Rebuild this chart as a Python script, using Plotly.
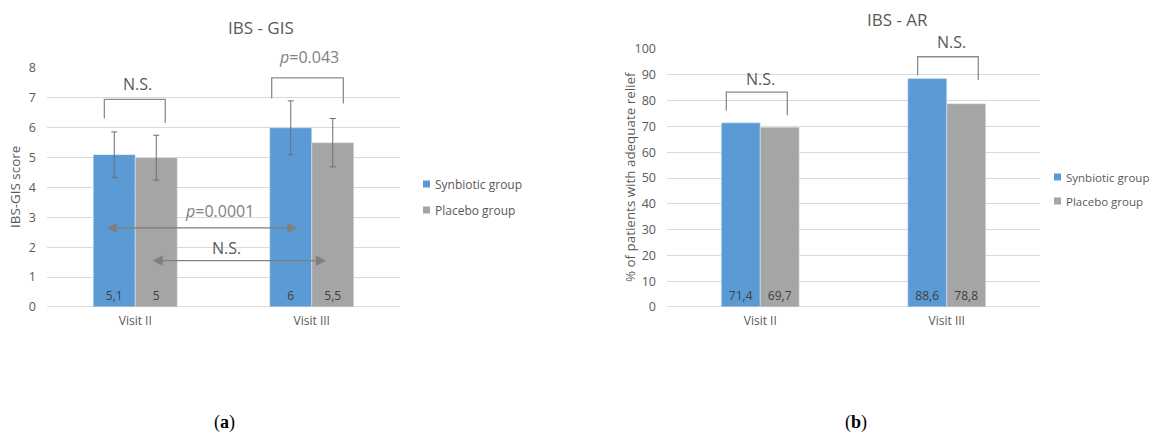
import plotly.graph_objects as go

# ---- data ----
visits = ["Visit II", "Visit III"]
gis_synbiotic = [5.1, 6.0]
gis_placebo = [5.0, 5.5]
gis_synbiotic_sd = [0.76, 0.9]
gis_placebo_sd = [0.75, 0.81]
ar_synbiotic = [71.4, 88.6]
ar_placebo = [69.7, 78.8]
gis_ticks = [0, 1, 2, 3, 4, 5, 6, 7, 8]
ar_ticks = [0, 10, 20, 30, 40, 50, 60, 70, 80, 90, 100]
groups = ["Synbiotic group", "Placebo group"]

BLUE = "#5B9BD5"
GRAY = "#A5A5A5"
TXT = "#595959"
GRID = "#D9D9D9"
LINE = "#8C8C8C"
FONT = "Open Sans"

W, H = 1151, 432


def px_x(p):
    return p / W


def px_y(p):
    return 1 - p / H


def fmt(v):
    return f"{v:g}".replace(".", ",")


xpos = list(range(len(visits)))

# panel geometry (paper fractions)
XD1 = [px_x(47), px_x(400)]
YD1 = [px_y(307), px_y(68)]
XD2 = [px_x(667), px_x(1040)]
YD2 = [px_y(307), px_y(49)]
PANELS = {
    1: dict(xd=XD1, yd=YD1, xr=(-0.5, 1.5), yr=(0, 8)),
    2: dict(xd=XD2, yd=YD2, xr=(-0.5, 1.5), yr=(0, 100)),
}


def to_paper(panel, x, y):
    p = PANELS[panel]
    fx = (x - p["xr"][0]) / (p["xr"][1] - p["xr"][0])
    fy = (y - p["yr"][0]) / (p["yr"][1] - p["yr"][0])
    return (p["xd"][0] + fx * (p["xd"][1] - p["xd"][0]),
            p["yd"][0] + fy * (p["yd"][1] - p["yd"][0]))


fig = go.Figure()

bar_text = dict(textposition="inside", insidetextanchor="start",
                textfont=dict(color="#404040", size=12, family=FONT))
err_style = dict(type="data", color="#6E6E6E", thickness=1, width=3)

# ---- left panel: IBS-GIS ----
wl = 0.238
fig.add_trace(go.Bar(
    x=xpos, y=gis_synbiotic, width=wl, offset=-wl, marker_color=BLUE,
    error_y=dict(array=gis_synbiotic_sd, **err_style),
    text=[fmt(v) for v in gis_synbiotic], **bar_text,
    xaxis="x", yaxis="y", showlegend=False, name=groups[0]))
fig.add_trace(go.Bar(
    x=xpos, y=gis_placebo, width=wl, offset=0, marker_color=GRAY,
    error_y=dict(array=gis_placebo_sd, **err_style),
    text=[fmt(v) for v in gis_placebo], **bar_text,
    xaxis="x", yaxis="y", showlegend=False, name=groups[1]))

# ---- right panel: IBS-AR ----
wr = 0.209
fig.add_trace(go.Bar(
    x=xpos, y=ar_synbiotic, width=wr, offset=-wr, marker_color=BLUE,
    text=[fmt(v) for v in ar_synbiotic], **bar_text,
    xaxis="x2", yaxis="y2", showlegend=False, name=groups[0]))
fig.add_trace(go.Bar(
    x=xpos, y=ar_placebo, width=wr, offset=0, marker_color=GRAY,
    text=[fmt(v) for v in ar_placebo], **bar_text,
    xaxis="x2", yaxis="y2", showlegend=False, name=groups[1]))

axis_common = dict(showline=False, zeroline=False, ticks="", color=TXT)

fig.update_layout(
    width=W, height=H, margin=dict(l=0, r=0, t=0, b=0, autoexpand=False),
    paper_bgcolor="white", plot_bgcolor="white", showlegend=False,
    font=dict(family=FONT, color=TXT),
    xaxis=dict(domain=XD1, range=PANELS[1]["xr"], tickvals=xpos, ticktext=visits,
               showgrid=False, anchor="y", ticklabelstandoff=5,
               tickfont=dict(family=FONT, size=12, color=TXT), **axis_common),
    yaxis=dict(domain=YD1, range=PANELS[1]["yr"], tickvals=gis_ticks,
               gridcolor=GRID, gridwidth=1, anchor="x", ticklabelstandoff=10,
               tickfont=dict(family=FONT, size=12.5, color=TXT), **axis_common),
    xaxis2=dict(domain=XD2, range=PANELS[2]["xr"], tickvals=xpos, ticktext=visits,
                showgrid=False, anchor="y2", ticklabelstandoff=5,
                tickfont=dict(family=FONT, size=12, color=TXT), **axis_common),
    yaxis2=dict(domain=YD2, range=PANELS[2]["yr"], tickvals=ar_ticks,
                gridcolor=GRID, gridwidth=1, anchor="x2", ticklabelstandoff=10,
                tickfont=dict(family=FONT, size=12.5, color=TXT), **axis_common),
)

# baseline at zero, slightly darker than the grid
for xa, ya in [("x", "y"), ("x2", "y2")]:
    fig.add_shape(type="line", xref=xa + " domain", yref=ya, x0=0, x1=1, y0=0, y1=0,
                  line=dict(color="#BFBFBF", width=1))


def text_at(x, y, text, size, color=TXT, family=FONT, angle=0, xanchor="center"):
    fig.add_annotation(xref="paper", yref="paper", x=x, y=y, text=text, showarrow=False,
                       xanchor=xanchor, yanchor="middle", textangle=angle,
                       font=dict(family=family, size=size, color=color))


def bracket(xa, ya, x0, x1, ytop, yl, yr):
    fig.add_shape(type="path", xref=xa, yref=ya,
                  path=f"M {x0},{yl} L {x0},{ytop} L {x1},{ytop} L {x1},{yr}",
                  line=dict(color=LINE, width=1.3))


def label(panel, x, y, text, size=16, color=TXT):
    px, py = to_paper(panel, x, y)
    text_at(px, py, text, size, color)


def double_arrow(xa, ya, x0, x1, y):
    fig.add_annotation(xref=xa, yref=ya, axref=xa, ayref=ya, x=x1, y=y, ax=x0, ay=y,
                       text="", showarrow=True, arrowside="end+start", arrowhead=2,
                       arrowsize=1.7, arrowwidth=1.2, arrowcolor="#7F7F7F")


# significance marks, IBS-GIS
bracket("x", "y", -0.175, 0.170, 6.95, 6.31, 6.17)
label(1, 0.014, 7.48, "N.S.")
bracket("x", "y", 0.773, 1.179, 7.67, 6.98, 6.81)
label(1, 0.984, 8.36, "<i>p</i>=0.043", color="#7F7F7F")
double_arrow("x", "y", -0.171, 0.920, 2.65)
label(1, 0.475, 3.21, "<i>p</i>=0.0001", color="#7F7F7F")
double_arrow("x", "y", 0.089, 1.081, 1.55)
label(1, 0.518, 1.96, "N.S.")

# significance marks, IBS-AR
bracket("x2", "y2", -0.182, 0.145, 83.3, 76.1, 74.3)
label(2, 0.004, 88.5, "N.S.")
bracket("x2", "y2", 0.844, 1.169, 97.0, 89.7, 88.0)
label(2, 1.027, 102.6, "N.S.")

# legends: small square swatch + group name
legend_items = [
    (423, [184, 210], 12),
    (1054, [177, 201], 11.5),
]
for x0, ys, fs in legend_items:
    for name, col, yc in zip(groups, [BLUE, GRAY], ys):
        fig.add_shape(type="rect", xref="paper", yref="paper",
                      x0=px_x(x0), x1=px_x(x0 + 7), y0=px_y(yc + 3.5), y1=px_y(yc - 3.5),
                      fillcolor=col, line=dict(width=0))
        text_at(px_x(x0 + 10), px_y(yc), name, fs, xanchor="left")

# titles
for x, y, t in [(261, 27, "IBS - GIS"), (897, 20, "IBS - AR")]:
    text_at(px_x(x), px_y(y), t, 17)

# y-axis titles
for x, y, t in [(15, 187, "IBS-GIS score"), (630, 177, "% of patients with adequate relief")]:
    text_at(px_x(x), px_y(y), t, 13.4, angle=-90)

# panel captions
for x, t in [(224, "(<b>a</b>)"), (856, "(<b>b</b>)")]:
    text_at(px_x(x), px_y(422), t, 18, color="black", family="Liberation Serif")

fig.write_html("out.html")
